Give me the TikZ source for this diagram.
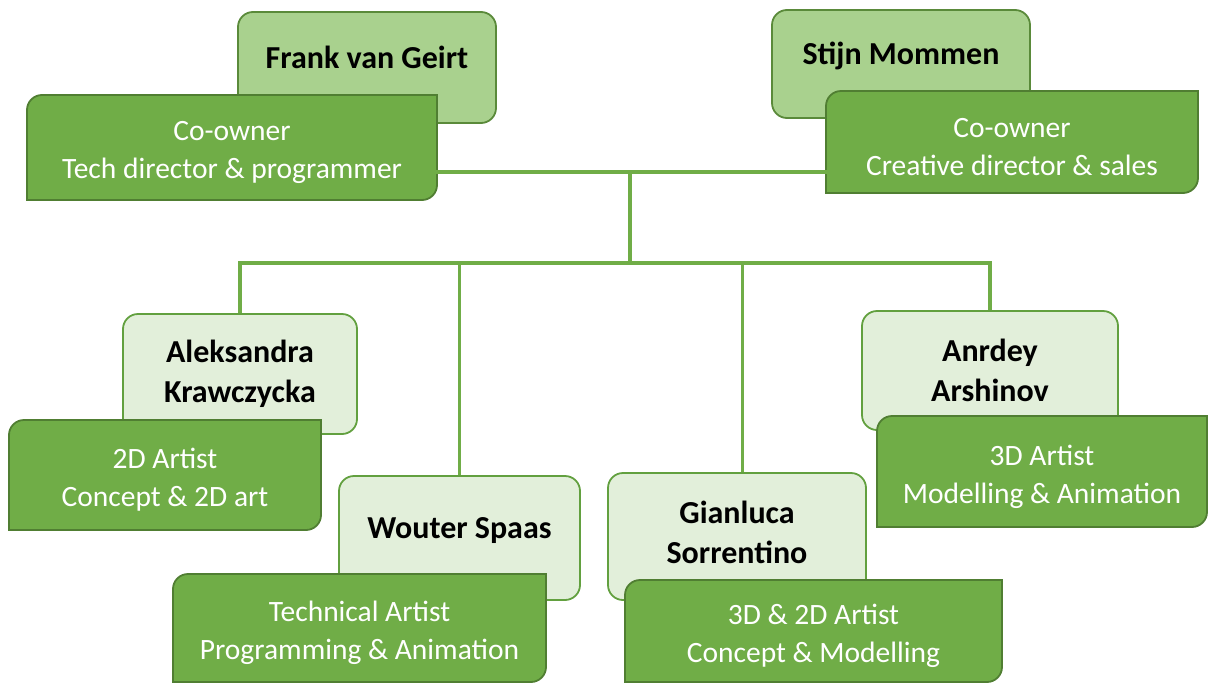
\documentclass[tikz,border=0pt]{standalone}
\usepackage{fontspec}
\setmainfont{Carlito}
\definecolor{linkgreen}{HTML}{70AD47}
\definecolor{rolefill}{HTML}{70AD47}
\definecolor{roleedge}{HTML}{507E32}
\definecolor{ownerfill}{HTML}{A9D18E}
\definecolor{owneredge}{HTML}{5A8A3A}
\definecolor{staffill}{HTML}{E2EFDA}
\definecolor{staffedge}{HTML}{62A03F}
\tikzset{
  link/.style={draw=linkgreen, line width=3.5pt},
  ownerbox/.style={draw=owneredge, fill=ownerfill, line width=1.8pt, rounded corners=15pt, inner sep=0pt},
  staffbox/.style={draw=staffedge, fill=staffill, line width=1.8pt, rounded corners=15pt, inner sep=0pt},
  roleshape/.style={draw=roleedge, fill=rolefill, line width=1.8pt},
  roletext/.style={text=white, align=center, inner sep=0pt, font=\fontsize{29.5}{38}\selectfont},
  nametext/.style={text=black, align=center, inner sep=0pt, font=\fontsize{32}{40}\selectfont\bfseries},
}
% role box: square top-right and bottom-left corners, round top-left and bottom-right
\newcommand\rolebox[6]{%
  \path[roleshape] (#2,#3+15) arc[start angle=180, end angle=90, radius=15pt]
    -- (#4,#3) -- (#4,#5-15) arc[start angle=0, end angle=-90, radius=15pt]
    -- (#2,#5) -- cycle;
  \node[roletext] (#1) at ({(#2+#4)/2},{(#3+#5)/2+5}) {#6};
}
\begin{document}
\begin{tikzpicture}[x=1pt, y=-1pt]
\useasboundingbox (0,0) rectangle (1208,683);

% connectors
\coordinate (top) at (630,172);
\coordinate (bus) at (630,263);

% owners
\node[ownerbox, minimum width=258pt, minimum height=111pt] (frank) at (367,67.5) {};
\node[nametext] (frankN) at (367,57) {Frank van Geirt};
\node[ownerbox, minimum width=258pt, minimum height=108pt] (stijn) at (901,64) {};
\node[nametext] (stijnN) at (901,56) {Stijn Mommen};

% staff
\node[staffbox, minimum width=234pt, minimum height=120pt] (alek) at (240,374) {};
\node[nametext] (alekN) at (240,374) {Aleksandra\\Krawczycka};
\node[staffbox, minimum width=241pt, minimum height=124pt] (wout) at (459.5,538) {};
\node[nametext] (woutN) at (459.5,531) {Wouter Spaas};
\node[staffbox, minimum width=258pt, minimum height=127pt] (gian) at (737,536.5) {};
\node[nametext] (gianN) at (737,532) {Gianluca\\Sorrentino};
\node[staffbox, minimum width=256pt, minimum height=119pt] (andr) at (990,370.5) {};
\node[nametext] (andrN) at (990,370) {Anrdey\\Arshinov};

% tree lines
\coordinate (gtap) at ([xshift=5.5pt]gian.north);
\draw[link] (top) -- (bus);
\draw[link] (alek.north) -- (alek.north |- bus) -- (andr.north |- bus) -- (andr.north);
\draw[link] (wout.north |- bus) -- (wout.north);
\draw[link] (gtap |- bus) -- (gtap);

% role boxes
\rolebox{frankT}{27}{95}{437}{200}{Co-owner\\Tech director \& programmer}
\rolebox{stijnT}{826}{91}{1198}{193}{Co-owner\\Creative director \& sales}
\rolebox{alekT}{9}{420}{321}{530}{2D Artist\\Concept \& 2D art}
\rolebox{woutT}{173}{574}{546}{682}{Technical Artist\\Programming \& Animation}
\rolebox{gianT}{625}{580}{1002}{682}{3D \& 2D Artist\\Concept \& Modelling}
\rolebox{andrT}{877}{416}{1207}{527}{3D Artist\\Modelling \& Animation}

\draw[link] (frankT.east |- top) -- (stijnT.west |- top);
\end{tikzpicture}
\end{document}
